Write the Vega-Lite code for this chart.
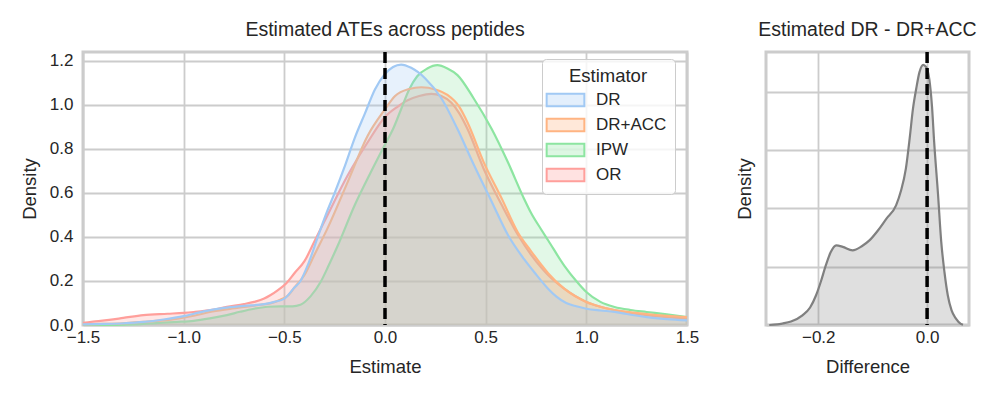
{
  "$schema": "https://vega.github.io/schema/vega-lite/v6.json",
  "padding": {"left": 18, "top": 18, "right": 5, "bottom": 5},
  "background": "white",
  "config": {
    "font": "Liberation Sans",
    "view": {"stroke": "#cccccc", "strokeWidth": 3},
    "axis": {"gridColor": "#cccccc", "gridWidth": 1.8, "domain": false, "ticks": false, "tickSize": 0, "labelFlush": false, "labelFontSize": 17, "titleFontSize": 18.5, "labelColor": "#262626", "titleColor": "#262626", "titleFontWeight": "normal", "labelFont": "Liberation Sans", "titleFont": "Liberation Sans"},
    "title": {"fontSize": 19.5, "fontWeight": "normal", "color": "#262626", "frame": "group", "offset": 10},
    "concat": {"spacing": 32}
  },
  "datasets": {
    "ate": [
      {"Estimator": "DR", "x": -1.5, "density": 0.003},
      {"Estimator": "DR", "x": -1.4, "density": 0.005},
      {"Estimator": "DR", "x": -1.3, "density": 0.008},
      {"Estimator": "DR", "x": -1.2, "density": 0.014},
      {"Estimator": "DR", "x": -1.1, "density": 0.025},
      {"Estimator": "DR", "x": -1.0, "density": 0.04},
      {"Estimator": "DR", "x": -0.9, "density": 0.062},
      {"Estimator": "DR", "x": -0.8, "density": 0.078},
      {"Estimator": "DR", "x": -0.7, "density": 0.087},
      {"Estimator": "DR", "x": -0.6, "density": 0.095},
      {"Estimator": "DR", "x": -0.55, "density": 0.105},
      {"Estimator": "DR", "x": -0.5, "density": 0.12},
      {"Estimator": "DR", "x": -0.45, "density": 0.17},
      {"Estimator": "DR", "x": -0.42, "density": 0.2},
      {"Estimator": "DR", "x": -0.38, "density": 0.28},
      {"Estimator": "DR", "x": -0.33, "density": 0.41},
      {"Estimator": "DR", "x": -0.29, "density": 0.51},
      {"Estimator": "DR", "x": -0.25, "density": 0.6},
      {"Estimator": "DR", "x": -0.2, "density": 0.72},
      {"Estimator": "DR", "x": -0.15, "density": 0.85},
      {"Estimator": "DR", "x": -0.1, "density": 0.96},
      {"Estimator": "DR", "x": -0.05, "density": 1.07},
      {"Estimator": "DR", "x": 0.0, "density": 1.14},
      {"Estimator": "DR", "x": 0.04, "density": 1.172},
      {"Estimator": "DR", "x": 0.08, "density": 1.183},
      {"Estimator": "DR", "x": 0.13, "density": 1.168},
      {"Estimator": "DR", "x": 0.2, "density": 1.12},
      {"Estimator": "DR", "x": 0.28, "density": 1.03},
      {"Estimator": "DR", "x": 0.36, "density": 0.89},
      {"Estimator": "DR", "x": 0.44, "density": 0.73},
      {"Estimator": "DR", "x": 0.53, "density": 0.56},
      {"Estimator": "DR", "x": 0.61, "density": 0.41},
      {"Estimator": "DR", "x": 0.69, "density": 0.3},
      {"Estimator": "DR", "x": 0.75, "density": 0.23},
      {"Estimator": "DR", "x": 0.81, "density": 0.165},
      {"Estimator": "DR", "x": 0.85, "density": 0.13},
      {"Estimator": "DR", "x": 0.9, "density": 0.1},
      {"Estimator": "DR", "x": 0.95, "density": 0.085},
      {"Estimator": "DR", "x": 1.0, "density": 0.074},
      {"Estimator": "DR", "x": 1.07, "density": 0.066},
      {"Estimator": "DR", "x": 1.14, "density": 0.06},
      {"Estimator": "DR", "x": 1.2, "density": 0.05},
      {"Estimator": "DR", "x": 1.3, "density": 0.036},
      {"Estimator": "DR", "x": 1.4, "density": 0.027},
      {"Estimator": "DR", "x": 1.5, "density": 0.021},

      {"Estimator": "DR+ACC", "x": -1.5, "density": 0.003},
      {"Estimator": "DR+ACC", "x": -1.4, "density": 0.005},
      {"Estimator": "DR+ACC", "x": -1.3, "density": 0.008},
      {"Estimator": "DR+ACC", "x": -1.2, "density": 0.014},
      {"Estimator": "DR+ACC", "x": -1.1, "density": 0.021},
      {"Estimator": "DR+ACC", "x": -1.03, "density": 0.029},
      {"Estimator": "DR+ACC", "x": -0.95, "density": 0.042},
      {"Estimator": "DR+ACC", "x": -0.87, "density": 0.059},
      {"Estimator": "DR+ACC", "x": -0.78, "density": 0.072},
      {"Estimator": "DR+ACC", "x": -0.7, "density": 0.082},
      {"Estimator": "DR+ACC", "x": -0.62, "density": 0.092},
      {"Estimator": "DR+ACC", "x": -0.57, "density": 0.098},
      {"Estimator": "DR+ACC", "x": -0.52, "density": 0.115},
      {"Estimator": "DR+ACC", "x": -0.48, "density": 0.135},
      {"Estimator": "DR+ACC", "x": -0.45, "density": 0.17},
      {"Estimator": "DR+ACC", "x": -0.4, "density": 0.227},
      {"Estimator": "DR+ACC", "x": -0.35, "density": 0.32},
      {"Estimator": "DR+ACC", "x": -0.285, "density": 0.44},
      {"Estimator": "DR+ACC", "x": -0.185, "density": 0.65},
      {"Estimator": "DR+ACC", "x": -0.086, "density": 0.86},
      {"Estimator": "DR+ACC", "x": 0.0, "density": 0.98},
      {"Estimator": "DR+ACC", "x": 0.05, "density": 1.04},
      {"Estimator": "DR+ACC", "x": 0.12, "density": 1.072},
      {"Estimator": "DR+ACC", "x": 0.18, "density": 1.08},
      {"Estimator": "DR+ACC", "x": 0.25, "density": 1.07},
      {"Estimator": "DR+ACC", "x": 0.31, "density": 1.045},
      {"Estimator": "DR+ACC", "x": 0.37, "density": 0.99},
      {"Estimator": "DR+ACC", "x": 0.41, "density": 0.92},
      {"Estimator": "DR+ACC", "x": 0.49, "density": 0.74},
      {"Estimator": "DR+ACC", "x": 0.58, "density": 0.574},
      {"Estimator": "DR+ACC", "x": 0.66, "density": 0.42},
      {"Estimator": "DR+ACC", "x": 0.725, "density": 0.336},
      {"Estimator": "DR+ACC", "x": 0.775, "density": 0.275},
      {"Estimator": "DR+ACC", "x": 0.81, "density": 0.235},
      {"Estimator": "DR+ACC", "x": 0.89, "density": 0.165},
      {"Estimator": "DR+ACC", "x": 1.0, "density": 0.105},
      {"Estimator": "DR+ACC", "x": 1.07, "density": 0.083},
      {"Estimator": "DR+ACC", "x": 1.14, "density": 0.068},
      {"Estimator": "DR+ACC", "x": 1.22, "density": 0.058},
      {"Estimator": "DR+ACC", "x": 1.3, "density": 0.05},
      {"Estimator": "DR+ACC", "x": 1.4, "density": 0.042},
      {"Estimator": "DR+ACC", "x": 1.5, "density": 0.036},

      {"Estimator": "IPW", "x": -1.5, "density": 0.0},
      {"Estimator": "IPW", "x": -1.3, "density": 0.002},
      {"Estimator": "IPW", "x": -1.2, "density": 0.005},
      {"Estimator": "IPW", "x": -1.12, "density": 0.01},
      {"Estimator": "IPW", "x": -1.03, "density": 0.014},
      {"Estimator": "IPW", "x": -0.95, "density": 0.019},
      {"Estimator": "IPW", "x": -0.87, "density": 0.03},
      {"Estimator": "IPW", "x": -0.785, "density": 0.045},
      {"Estimator": "IPW", "x": -0.72, "density": 0.06},
      {"Estimator": "IPW", "x": -0.65, "density": 0.074},
      {"Estimator": "IPW", "x": -0.58, "density": 0.083},
      {"Estimator": "IPW", "x": -0.52, "density": 0.085},
      {"Estimator": "IPW", "x": -0.46, "density": 0.085},
      {"Estimator": "IPW", "x": -0.42, "density": 0.092},
      {"Estimator": "IPW", "x": -0.37, "density": 0.13},
      {"Estimator": "IPW", "x": -0.32, "density": 0.195},
      {"Estimator": "IPW", "x": -0.28, "density": 0.27},
      {"Estimator": "IPW", "x": -0.235, "density": 0.36},
      {"Estimator": "IPW", "x": -0.15, "density": 0.545},
      {"Estimator": "IPW", "x": -0.07, "density": 0.695},
      {"Estimator": "IPW", "x": 0.0, "density": 0.82},
      {"Estimator": "IPW", "x": 0.04, "density": 0.89},
      {"Estimator": "IPW", "x": 0.08, "density": 0.98},
      {"Estimator": "IPW", "x": 0.12, "density": 1.07},
      {"Estimator": "IPW", "x": 0.16, "density": 1.13},
      {"Estimator": "IPW", "x": 0.21, "density": 1.165},
      {"Estimator": "IPW", "x": 0.26, "density": 1.18},
      {"Estimator": "IPW", "x": 0.31, "density": 1.165},
      {"Estimator": "IPW", "x": 0.36, "density": 1.135},
      {"Estimator": "IPW", "x": 0.44, "density": 1.03},
      {"Estimator": "IPW", "x": 0.53, "density": 0.89},
      {"Estimator": "IPW", "x": 0.61, "density": 0.74},
      {"Estimator": "IPW", "x": 0.69, "density": 0.575},
      {"Estimator": "IPW", "x": 0.725, "density": 0.51},
      {"Estimator": "IPW", "x": 0.775, "density": 0.435},
      {"Estimator": "IPW", "x": 0.81, "density": 0.385},
      {"Estimator": "IPW", "x": 0.89, "density": 0.27},
      {"Estimator": "IPW", "x": 0.95, "density": 0.2},
      {"Estimator": "IPW", "x": 1.0, "density": 0.15},
      {"Estimator": "IPW", "x": 1.07, "density": 0.105},
      {"Estimator": "IPW", "x": 1.14, "density": 0.082},
      {"Estimator": "IPW", "x": 1.22, "density": 0.068},
      {"Estimator": "IPW", "x": 1.3, "density": 0.059},
      {"Estimator": "IPW", "x": 1.4, "density": 0.048},
      {"Estimator": "IPW", "x": 1.5, "density": 0.036},

      {"Estimator": "OR", "x": -1.5, "density": 0.01},
      {"Estimator": "OR", "x": -1.45, "density": 0.015},
      {"Estimator": "OR", "x": -1.37, "density": 0.023},
      {"Estimator": "OR", "x": -1.3, "density": 0.032},
      {"Estimator": "OR", "x": -1.2, "density": 0.045},
      {"Estimator": "OR", "x": -1.08, "density": 0.051},
      {"Estimator": "OR", "x": -1.0, "density": 0.055},
      {"Estimator": "OR", "x": -0.95, "density": 0.059},
      {"Estimator": "OR", "x": -0.85, "density": 0.07},
      {"Estimator": "OR", "x": -0.785, "density": 0.082},
      {"Estimator": "OR", "x": -0.7, "density": 0.095},
      {"Estimator": "OR", "x": -0.65, "density": 0.105},
      {"Estimator": "OR", "x": -0.6, "density": 0.12},
      {"Estimator": "OR", "x": -0.57, "density": 0.135},
      {"Estimator": "OR", "x": -0.53, "density": 0.16},
      {"Estimator": "OR", "x": -0.49, "density": 0.19},
      {"Estimator": "OR", "x": -0.45, "density": 0.235},
      {"Estimator": "OR", "x": -0.4, "density": 0.29},
      {"Estimator": "OR", "x": -0.35, "density": 0.38},
      {"Estimator": "OR", "x": -0.285, "density": 0.5},
      {"Estimator": "OR", "x": -0.185, "density": 0.68},
      {"Estimator": "OR", "x": -0.086, "density": 0.83},
      {"Estimator": "OR", "x": 0.0, "density": 0.945},
      {"Estimator": "OR", "x": 0.06, "density": 0.99},
      {"Estimator": "OR", "x": 0.11, "density": 1.02},
      {"Estimator": "OR", "x": 0.17, "density": 1.04},
      {"Estimator": "OR", "x": 0.23, "density": 1.05},
      {"Estimator": "OR", "x": 0.28, "density": 1.04},
      {"Estimator": "OR", "x": 0.33, "density": 1.01},
      {"Estimator": "OR", "x": 0.37, "density": 0.96},
      {"Estimator": "OR", "x": 0.41, "density": 0.89},
      {"Estimator": "OR", "x": 0.49, "density": 0.71},
      {"Estimator": "OR", "x": 0.58, "density": 0.545},
      {"Estimator": "OR", "x": 0.66, "density": 0.41},
      {"Estimator": "OR", "x": 0.725, "density": 0.32},
      {"Estimator": "OR", "x": 0.775, "density": 0.262},
      {"Estimator": "OR", "x": 0.81, "density": 0.227},
      {"Estimator": "OR", "x": 0.89, "density": 0.165},
      {"Estimator": "OR", "x": 1.0, "density": 0.105},
      {"Estimator": "OR", "x": 1.07, "density": 0.083},
      {"Estimator": "OR", "x": 1.14, "density": 0.068},
      {"Estimator": "OR", "x": 1.22, "density": 0.055},
      {"Estimator": "OR", "x": 1.3, "density": 0.045},
      {"Estimator": "OR", "x": 1.4, "density": 0.036},
      {"Estimator": "OR", "x": 1.5, "density": 0.029}
    ],
    "diff": [
      {"x": -0.29, "density": 0.0},
      {"x": -0.275, "density": 0.02},
      {"x": -0.266, "density": 0.05},
      {"x": -0.25, "density": 0.12},
      {"x": -0.229, "density": 0.33},
      {"x": -0.215, "density": 0.6},
      {"x": -0.204, "density": 1.02},
      {"x": -0.195, "density": 1.5},
      {"x": -0.186, "density": 2.05},
      {"x": -0.177, "density": 2.5},
      {"x": -0.167, "density": 2.73},
      {"x": -0.155, "density": 2.68},
      {"x": -0.137, "density": 2.56},
      {"x": -0.12, "density": 2.7},
      {"x": -0.106, "density": 2.9},
      {"x": -0.09, "density": 3.25},
      {"x": -0.075, "density": 3.64},
      {"x": -0.057, "density": 4.1},
      {"x": -0.048, "density": 4.6},
      {"x": -0.039, "density": 5.36},
      {"x": -0.032, "density": 6.4},
      {"x": -0.026, "density": 7.41},
      {"x": -0.02, "density": 8.1},
      {"x": -0.014, "density": 8.67},
      {"x": -0.007, "density": 8.92},
      {"x": -0.002, "density": 8.85},
      {"x": 0.004, "density": 8.44},
      {"x": 0.009, "density": 7.5},
      {"x": 0.013, "density": 6.27},
      {"x": 0.02, "density": 4.5},
      {"x": 0.026, "density": 2.85},
      {"x": 0.032, "density": 1.8},
      {"x": 0.038, "density": 1.02},
      {"x": 0.045, "density": 0.5},
      {"x": 0.053, "density": 0.22},
      {"x": 0.062, "density": 0.04},
      {"x": 0.066, "density": 0.01}
    ],
    "zero": [{"x": 0}]
  },
  "hconcat": [
    {
      "width": 604,
      "height": 273,
      "title": {"text": "Estimated ATEs across peptides"},
      "layer": [
        {
          "data": {"name": "ate"},
          "encoding": {
            "x": {"field": "x", "type": "quantitative", "scale": {"domain": [-1.5, 1.5], "nice": false, "zero": false},
              "axis": {"values": [-1.5, -1, -0.5, 0, 0.5, 1, 1.5], "format": ".1f", "title": "Estimate", "labelPadding": 4, "titlePadding": 12}},
            "y": {"field": "density", "type": "quantitative", "stack": null, "scale": {"domain": [0, 1.24], "nice": false},
              "axis": {"values": [0, 0.2, 0.4, 0.6, 0.8, 1.0, 1.2], "format": ".1f", "title": "Density", "labelPadding": 10, "titlePadding": 10}},
            "color": {"field": "Estimator", "type": "nominal",
              "scale": {"domain": ["DR", "DR+ACC", "IPW", "OR"], "range": ["#a1c9f4", "#ffb482", "#8de5a1", "#ff9f9b"]},
              "legend": {
                "orient": "none", "legendX": 459, "legendY": 7,
                "title": "Estimator", "titleFontSize": 18.5, "titleFontWeight": "normal", "titleColor": "#262626", "titleAnchor": "middle", "titlePadding": 6,
                "labelFontSize": 17, "labelColor": "#262626", "labelOffset": 22,
                "symbolType": "M-2.9,-0.95H2.9V0.95H-2.9Z", "symbolSize": 169, "symbolStrokeWidth": 2, "symbolOffset": 7,
                "rowPadding": 4, "padding": 8,
                "fillColor": "rgba(255,255,255,0.8)", "strokeColor": "#cccccc", "cornerRadius": 4,
                "encode": {"symbols": {"update": {"fillOpacity": {"value": 0.3}, "stroke": {"scale": "color", "field": "value"}, "strokeOpacity": {"value": 1}}}}
              }
            }
          },
          "layer": [
            {"transform": [{"filter": "datum.Estimator === 'OR'"}], "mark": {"type": "area", "fillOpacity": 0.25, "interpolate": "monotone", "line": {"strokeWidth": 2.2}}},
            {"transform": [{"filter": "datum.Estimator === 'IPW'"}], "mark": {"type": "area", "fillOpacity": 0.25, "interpolate": "monotone", "line": {"strokeWidth": 2.2}}},
            {"transform": [{"filter": "datum.Estimator === 'DR+ACC'"}], "mark": {"type": "area", "fillOpacity": 0.25, "interpolate": "monotone", "line": {"strokeWidth": 2.2}}},
            {"transform": [{"filter": "datum.Estimator === 'DR'"}], "mark": {"type": "area", "fillOpacity": 0.25, "interpolate": "monotone", "line": {"strokeWidth": 2.2}}}
          ]
        },
        {
          "data": {"name": "zero"},
          "mark": {"type": "rule", "color": "black", "strokeWidth": 3.5, "strokeDash": [11, 5]},
          "encoding": {"x": {"field": "x", "type": "quantitative", "scale": {"domain": [-1.5, 1.5], "nice": false, "zero": false}}}
        }
      ]
    },
    {
      "width": 203,
      "height": 273,
      "title": {"text": "Estimated DR - DR+ACC"},
      "layer": [
        {
          "data": {"name": "diff"},
          "mark": {"type": "area", "color": "#808080", "fillOpacity": 0.25, "interpolate": "monotone", "line": {"color": "#808080", "strokeWidth": 2.2}},
          "encoding": {
            "x": {"field": "x", "type": "quantitative", "scale": {"domain": [-0.296, 0.077], "nice": false, "zero": false},
              "axis": {"values": [-0.2, 0.0], "format": ".1f", "title": "Difference", "labelPadding": 4, "titlePadding": 12}},
            "y": {"field": "density", "type": "quantitative", "scale": {"domain": [0, 9.36], "nice": false},
              "axis": {"values": [0, 2, 4, 6, 8], "labels": false, "title": "Density", "titlePadding": 12}}
          }
        },
        {
          "data": {"name": "zero"},
          "mark": {"type": "rule", "color": "black", "strokeWidth": 3.5, "strokeDash": [11, 5]},
          "encoding": {"x": {"field": "x", "type": "quantitative", "scale": {"domain": [-0.296, 0.077], "nice": false, "zero": false}}}
        }
      ]
    }
  ]
}
